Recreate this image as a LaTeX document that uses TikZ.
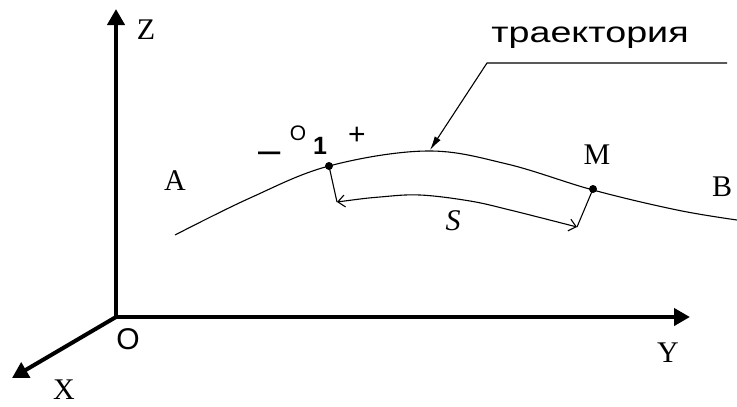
\documentclass[tikz,border=0pt]{standalone}
\usepackage{fontspec}
\usepackage{graphicx}
\setmainfont{Liberation Serif}
\newfontfamily\arialf{Liberation Sans}
\usetikzlibrary{arrows.meta}
\begin{document}
\begin{tikzpicture}[x=1pt,y=-1pt,
  axisline/.style={line width=4pt},
  axtip/.tip={Triangle[length=16pt,width=17pt]},
  sbarb/.tip={Straight Barb[length=7pt,width=12pt]},
  thinline/.style={line width=1.1pt},
  lbl/.style={font=\fontsize{30}{36}\selectfont, inner sep=0pt},
  sanslbl/.style={inner sep=0pt},
  dot/.style={circle, fill=black, inner sep=0pt, minimum size=8pt}]
\fill[white] (0,0) rectangle (737,407);
\useasboundingbox (0,0) rectangle (737,407);
% axes
\coordinate (O) at (116,317);
\coordinate (Ztip) at (116,9);
\coordinate (Ytip) at (690,317);
\coordinate (Xtip) at (12,378);
\draw[axisline, axtip-axtip, line join=miter] (Ztip) -- (O) -- (Ytip);
\draw[axisline, -axtip] (O) -- (Xtip);
% trajectory
\draw[thinline] plot[smooth, tension=0.6] coordinates
  {(175,235) (250,198) (329,166) (427,151) (507,164) (593,190) (677,210) (737,220)};
\node[dot] (O1) at (329,166) {};
\node[dot] (M) at (593,189) {};
\coordinate (s1) at (337,202);
\coordinate (s2) at (577,227);
\draw[thinline] (O1.center) -- (s1);
\draw[thinline] (M.center) -- (s2);
\draw[thinline, sbarb-sbarb]
  plot[smooth, tension=0.6] coordinates {(s1) (380,197) (420,195) (470,201) (510,210) (s2)};
% leader
\coordinate (L1) at (727,63);
\coordinate (L2) at (487,63);
\coordinate (Lt) at (430,150);
\draw[thinline, -{Latex[length=14pt,width=7pt]}] (L1) -- (L2) -- (Lt);
% labels
\node[lbl] (Zl) at (146,30) {Z};
\node[lbl] (Xl) at (64,390) {X};
\node[lbl] (Yl) at (668,353) {Y};
\node[lbl] (Al) at (175,181) {A};
\node[lbl] (Bl) at (722,187) {B};
\node[lbl] (Ml) at (597,155) {M};
\node[lbl, font=\fontsize{30}{36}\selectfont\itshape] (Sl) at (453,221) {S};
\node[sanslbl, font=\arialf\fontsize{30}{36}\selectfont] (Ol) at (128,339) {O};
\node[sanslbl, font=\arialf\fontsize{21}{25}\selectfont] (o1o) at (298,133) {O};
\node[sanslbl, font=\arialf\bfseries\fontsize{25}{30}\selectfont] (o1n) at (320,146) {1};
\node[sanslbl, anchor=north, font=\arialf\fontsize{40}{48}\selectfont] (minus) at (270,152) {–};
\node[sanslbl, anchor=north, font=\arialf\fontsize{30}{36}\selectfont] (plus) at (357,127) {+};
\node[sanslbl, anchor=base, font=\arialf\fontsize{29}{34}\selectfont] (traj) at (590,42)
  {\scalebox{1.3}[1]{траектория}};
\end{tikzpicture}
\end{document}
